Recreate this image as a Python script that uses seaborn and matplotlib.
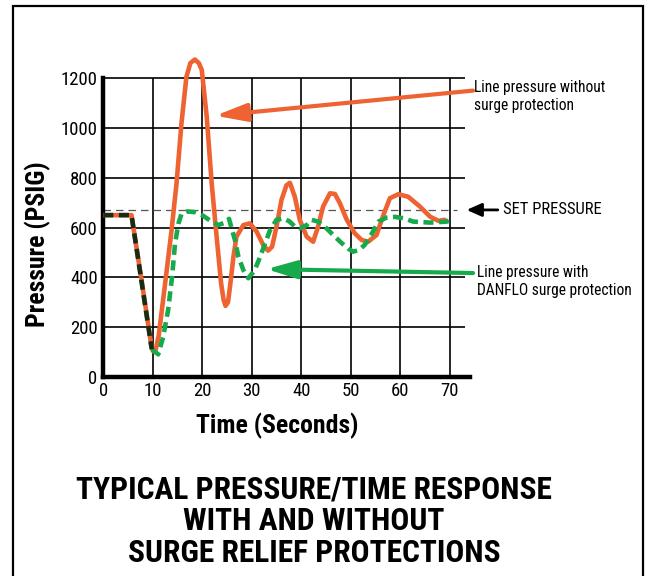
import matplotlib
matplotlib.use("Agg")
import matplotlib.pyplot as plt
from matplotlib.patches import Rectangle
import seaborn as sns
import pandas as pd

# pressure without surge protection (orange)
time_no = [0, 5.7, 7.8, 9.3, 9.7, 10.1, 10.6, 11.2, 12.5, 13.8, 14.8, 15.8, 16.8, 17.6, 18.5,
           19.3, 19.9, 20.9, 21.9, 22.9, 23.8, 24.3, 24.7, 25.2, 25.6, 26.3, 26.9, 28.3, 29.6,
           31, 32.3, 33.3, 34.1, 35, 36, 37, 37.7, 38.7, 39.7, 41.1, 42.4, 43.4, 44.4, 45.8,
           46.8, 47.8, 49.2, 50.8, 52.2, 53.5, 55.2, 56.6, 57.9, 59.6, 61.6, 64, 66, 67.7, 69]
press_no = [650, 650, 380, 180, 125, 102, 110, 165, 376, 590, 778, 1020, 1207, 1262, 1276,
            1262, 1234, 1046, 778, 563, 376, 310, 285, 300, 362, 483, 563, 610, 617,
            583, 530, 507, 523, 604, 711, 770, 780, 724, 631, 563, 543, 604, 684, 738,
            735, 698, 631, 577, 550, 543, 570, 651, 718, 734, 724, 684, 644, 627, 631]

# pressure with DANFLO surge protection (green dashed)
time_danflo = [0, 5.7, 9.8, 11.1, 12.1, 13.1, 13.9, 14.5, 15.2, 15.8, 17, 18.5, 19.9, 21.9,
               23.2, 24.6, 25.4, 26.6, 27.3, 28.3, 29.3, 30.6, 31.7, 32.7, 33.7, 35, 36.4,
               37.6, 38.7, 39.7, 41.1, 42.1, 43.4, 45.1, 46.8, 48.2, 49.5, 50.5, 51.7, 52.8,
               53.9, 55.6, 57.2, 58.9, 60.8, 62.6, 64.3, 66, 67.8, 69.4, 70.2]
press_danflo = [650, 650, 110, 90, 160, 268, 402, 537, 617, 655, 665, 662, 651, 624,
                610, 620, 635, 550, 483, 429, 396, 429, 483, 537, 590, 631, 637,
                625, 604, 597, 610, 631, 624, 597, 563, 537, 515, 503, 510, 530,
                563, 624, 640, 643, 637, 624, 622, 620, 622, 624, 631]

set_pressure = 671
x_ticks = [0, 10, 20, 30, 40, 50, 60, 70]
y_ticks = [0, 200, 400, 600, 800, 1000, 1200]

ORANGE = "#EE6331"
GREEN = "#17AA4C"
DARK = "#142E14"

sns.set_style("white")
plt.rcParams["font.family"] = ["Liberation Sans Narrow", "Roboto Condensed",
                               "DejaVu Sans Condensed", "Open Sans Condensed",
                               "Roboto", "DejaVu Sans"]
plt.rcParams["text.color"] = "black"
plt.rcParams["xtick.color"] = "black"
plt.rcParams["ytick.color"] = "black"

df_no = pd.DataFrame({"t": time_no, "p": press_no})
df_d = pd.DataFrame({"t": time_danflo, "p": press_danflo})
df_overlap = df_d[df_d["t"] <= 10]
df_green = df_d[df_d["t"] >= 9.8]

fig = plt.figure(figsize=(6.52, 5.76), dpi=100)
ax = fig.add_axes([0.1584, 0.346, 0.5618, 0.561])
ax.set_xlim(0, 74)
ax.set_ylim(0, 1300)

# grid drawn only up to 1200
ax.vlines(x_ticks[1:], 0, 1200, color="black", lw=1.2, zorder=1)
ax.hlines(y_ticks[1:], 0, 73, color="black", lw=1.2, zorder=1)
ax.hlines(set_pressure, 0, 71.5, color="#555555", lw=0.9, linestyles=(0, (6, 4)), zorder=1)

sns.lineplot(data=df_no, x="t", y="p", ax=ax, color=ORANGE, lw=3.3, sort=False,
             estimator=None, solid_capstyle="round", solid_joinstyle="round", zorder=3)
sns.lineplot(data=df_green, x="t", y="p", ax=ax, color=GREEN, lw=3.3, sort=False,
             estimator=None, ls=(0, (2.2, 1.2)), zorder=4)
sns.lineplot(data=df_overlap, x="t", y="p", ax=ax, color=DARK, lw=3.3, sort=False,
             estimator=None, ls=(0, (2.2, 1.2)), zorder=5)

for s in ["top", "right"]:
    ax.spines[s].set_visible(False)
ax.spines["left"].set_bounds(0, 1200)
ax.spines["left"].set_linewidth(3.2)
ax.spines["bottom"].set_linewidth(3.2)
ax.spines["left"].set_color("black")
ax.spines["bottom"].set_color("black")

ax.set_xticks(x_ticks)
ax.set_yticks(y_ticks)
ax.tick_params(length=0, labelsize=13.5, pad=4)
ax.set_xlabel("")
ax.set_ylabel("")

# annotations
ax.annotate("", xy=(22.6, 1050), xytext=(74.7, 1151), annotation_clip=False,
            arrowprops=dict(arrowstyle="-|>,head_length=0.95,head_width=0.27", lw=3,
                            color=ORANGE, mutation_scale=20, shrinkA=0, shrinkB=0))
ax.annotate("", xy=(33, 433), xytext=(74.7, 417), annotation_clip=False,
            arrowprops=dict(arrowstyle="-|>,head_length=0.9,head_width=0.27", lw=3,
                            color=GREEN, mutation_scale=20, shrinkA=0, shrinkB=0))
ax.annotate("", xy=(73.4, set_pressure), xytext=(79.7, set_pressure), annotation_clip=False,
            arrowprops=dict(arrowstyle="-|>,head_length=0.45,head_width=0.2", lw=2,
                            color="black", mutation_scale=20, shrinkA=0, shrinkB=0))

ax.text(74.9, 1128, "Line pressure without\nsurge protection", fontsize=11.2,
        va="center", ha="left", linespacing=1.2, clip_on=False)
ax.text(75.5, 383, "Line pressure with\nDANFLO surge protection", fontsize=11.2,
        va="center", ha="left", linespacing=1.2, clip_on=False)
ax.text(80.8, set_pressure, "SET PRESSURE", fontsize=12, va="center", ha="left", clip_on=False)

fig.text(38 / 652, 1 - 244 / 576, "Pressure (PSIG)", rotation=90, fontsize=18.5,
         fontweight="bold", ha="center", va="center")
fig.text(277 / 652, 1 - 426 / 576, "Time (Seconds)", fontsize=18.5, fontweight="bold",
         ha="center", va="center")
fig.text(314 / 652, 1 - 521 / 576,
         "TYPICAL PRESSURE/TIME RESPONSE\nWITH AND WITHOUT\nSURGE RELIEF PROTECTIONS",
         fontsize=22.7, fontweight="bold", ha="center", va="center", linespacing=1.07)

fig.add_artist(Rectangle((13 / 652, -0.02), 630 / 652, 1 - 6 / 576 + 0.02, fill=False,
                         lw=1.6, edgecolor="black", transform=fig.transFigure))

fig.savefig("out.png", dpi=100)
plt.close()
